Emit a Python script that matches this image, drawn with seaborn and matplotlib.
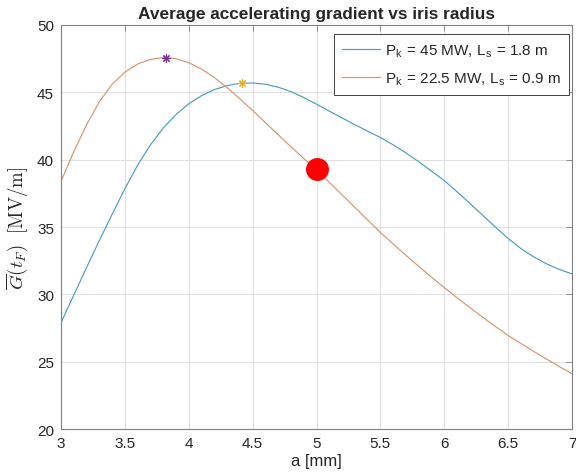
import matplotlib
matplotlib.use("Agg")
import matplotlib.pyplot as plt
import seaborn as sns
import pandas as pd

# ---- data ----
a_mm = [3.0, 3.1, 3.2, 3.3, 3.4, 3.5, 3.6, 3.7, 3.8, 3.9,
        4.0, 4.1, 4.2, 4.3, 4.4, 4.5, 4.6, 4.7, 4.8, 4.9,
        5.0, 5.1, 5.2, 5.3, 5.4, 5.5, 5.6, 5.7, 5.8, 5.9,
        6.0, 6.1, 6.2, 6.3, 6.4, 6.5, 6.6, 6.7, 6.8, 6.9, 7.0]
g_45MW = [27.9, 29.95, 32.0, 34.0, 35.95, 37.85, 39.6, 41.1, 42.35, 43.35,
          44.15, 44.75, 45.2, 45.5, 45.67, 45.7, 45.6, 45.38, 45.05, 44.62,
          44.12, 43.6, 43.1, 42.6, 42.12, 41.65, 41.1, 40.5, 39.85, 39.15,
          38.45, 37.62, 36.76, 35.88, 35.0, 34.15, 33.4, 32.78, 32.27, 31.85, 31.52]
g_22MW = [38.4, 40.6, 42.6, 44.3, 45.6, 46.5, 47.1, 47.45, 47.58, 47.5,
          47.2, 46.73, 46.1, 45.35, 44.52, 43.65, 42.75, 41.85, 40.95, 40.1,
          39.25, 38.32, 37.39, 36.46, 35.53, 34.6, 33.74, 32.9, 32.08, 31.28,
          30.5, 29.75, 29.02, 28.31, 27.62, 26.95, 26.35, 25.77, 25.2, 24.64, 24.1]
series_labels = [r"P$_{\mathsf{k}}$ = 45 MW, L$_{\mathsf{s}}$ = 1.8 m",
                 r"P$_{\mathsf{k}}$ = 22.5 MW, L$_{\mathsf{s}}$ = 0.9 m"]
peak_a = [3.82, 4.42]
peak_g = [47.58, 45.7]
point_a = [5.0]
point_g = [39.3]
x_ticks = [3, 3.5, 4, 4.5, 5, 5.5, 6, 6.5, 7]
x_ticklabels = ["3", "3.5", "4", "4.5", "5", "5.5", "6", "6.5", "7"]
y_ticks = [20, 25, 30, 35, 40, 45, 50]

sns.set_theme(style="white")
plt.rcParams["font.family"] = ["Liberation Sans", "DejaVu Sans"]
plt.rcParams["mathtext.fontset"] = "custom"
plt.rcParams["mathtext.rm"] = "cmr10"
plt.rcParams["mathtext.it"] = "cmmi10"
plt.rcParams["mathtext.sf"] = "Liberation Sans"

df = pd.DataFrame({
    "a": a_mm * 2,
    "G": g_45MW + g_22MW,
    "series": [series_labels[0]] * len(a_mm) + [series_labels[1]] * len(a_mm),
})

fig = plt.figure(figsize=(5.76, 4.77), dpi=100)
ax = fig.add_axes([0.106, 0.0985, 0.887, 0.847])

palette = {series_labels[0]: "#4f9bc8", series_labels[1]: "#d8956f"}
sns.lineplot(data=df, x="a", y="G", hue="series", palette=palette,
             linewidth=0.85, ax=ax, sort=False)

ax.plot([peak_a[0]], [peak_g[0]], linestyle="none", marker=(8, 2, 0),
        markersize=6, color="#7E2F8E", markeredgewidth=0.8)
ax.plot([peak_a[1]], [peak_g[1]], linestyle="none", marker=(8, 2, 0),
        markersize=6, color="#EDB120", markeredgewidth=0.8)
ax.plot(point_a, point_g, linestyle="none", marker="o", markersize=15.5,
        color="red")

ax.set_xlim(3, 7)
ax.set_ylim(20, 50)
ax.set_xticks(x_ticks)
ax.set_xticklabels(x_ticklabels)
ax.set_yticks(y_ticks)
ax.grid(True, color="#e0e0e0", linewidth=0.7)
ax.set_axisbelow(True)

for s in ax.spines.values():
    s.set_visible(True)
    s.set_color("#808080")
    s.set_linewidth(0.8)
ax.tick_params(direction="in", length=4, width=0.6, color="#808080",
               top=True, right=True, labelsize=11, labelcolor="#262626", pad=5)

ax.set_xlabel("a [mm]", fontsize=12, color="#262626", labelpad=2)
ax.set_ylabel(r"$\overline{G}(t_F)\ \ [\mathrm{MV/m}]$", fontsize=13.5,
              color="#262626", labelpad=5)
ax.set_title("Average accelerating gradient vs iris radius", fontsize=12.4,
             fontweight="bold", pad=5)

leg = ax.legend(loc="upper right", bbox_to_anchor=(0.995, 0.978),
                fontsize=11, frameon=True, fancybox=False,
                handlelength=2.5, borderpad=0.55, labelspacing=0.75,
                borderaxespad=0.0, handletextpad=0.3)
leg.get_frame().set_edgecolor("#262626")
leg.get_frame().set_linewidth(0.6)
leg.get_frame().set_alpha(1)

fig.savefig("out.png", dpi=100)
